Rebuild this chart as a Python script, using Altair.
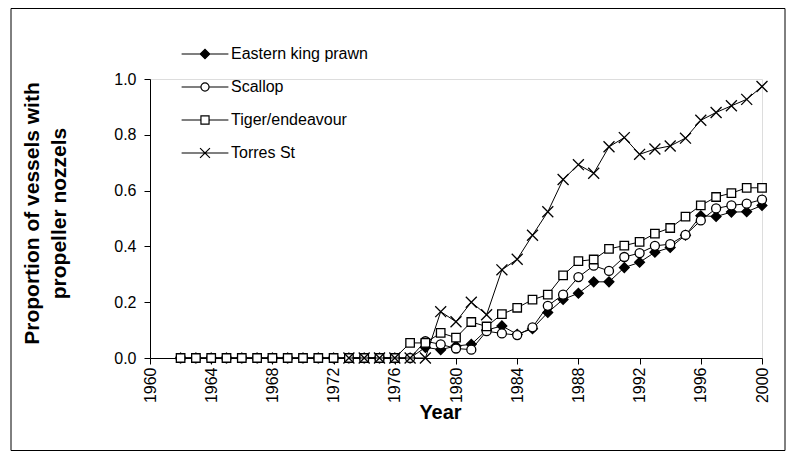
import altair as alt
import pandas as pd

# ---- data ----
series = ["Eastern king prawn", "Scallop", "Tiger/endeavour", "Torres St"]

years = list(range(1962, 2001))
torres_years = list(range(1973, 2001))

eastern = [0] * 16 + [0.038, 0.03, 0.043, 0.049, 0.10, 0.115, 0.085, 0.105, 0.163,
                      0.21, 0.232, 0.273, 0.273, 0.324, 0.343, 0.379, 0.396, 0.44,
                      0.51, 0.507, 0.523, 0.524, 0.547]
scallop = [0] * 16 + [0.06, 0.049, 0.034, 0.03, 0.096, 0.088, 0.082, 0.11, 0.187,
                      0.227, 0.29, 0.331, 0.312, 0.362, 0.376, 0.402, 0.408, 0.441,
                      0.493, 0.536, 0.547, 0.553, 0.568]
tiger = [0] * 15 + [0.054, 0.054, 0.09, 0.073, 0.129, 0.113, 0.157, 0.18, 0.209,
                    0.227, 0.296, 0.347, 0.353, 0.391, 0.403, 0.416, 0.446, 0.466,
                    0.507, 0.547, 0.577, 0.591, 0.61, 0.61]
torres = [0] * 6 + [0.166, 0.13, 0.20, 0.155, 0.316, 0.354, 0.44, 0.524, 0.64, 0.693,
                    0.662, 0.757, 0.79, 0.73, 0.749, 0.76, 0.788, 0.852, 0.88, 0.904,
                    0.927, 0.973]

x_ticks = list(range(1960, 2001, 4))
y_ticks = [0.0, 0.2, 0.4, 0.6, 0.8, 1.0]

rows = []
for name, yrs, vals in [(series[0], years, eastern), (series[1], years, scallop),
                        (series[2], years, tiger), (series[3], torres_years, torres)]:
    for yv, v in zip(yrs, vals):
        rows.append({"series": name, "year": yv, "value": v})
df = pd.DataFrame(rows)

FONT = "Liberation Sans"

point_shapes = ["diamond", "circle", "square", "M-1,-1L1,1M-1,1L1,-1"]
point_fills = ["black", "white", "white", "transparent"]
point_sizes = [95, 81, 72, 120]

legend_shapes = [
    "M-5.2,0L5.2,0M-1.05,0L0,-1.05L1.05,0L0,1.05Z",
    "M-5.2,0L-0.9,0M0.9,0L5.2,0M0.9,0A0.9,0.9,0,1,1,-0.9,0A0.9,0.9,0,1,1,0.9,0Z",
    "M-5.2,0L-0.9,0M0.9,0L5.2,0M-0.9,-0.9L0.9,-0.9L0.9,0.9L-0.9,0.9Z",
    "M-5.2,0L5.2,0M-1.1,-1.1L1.1,1.1M-1.1,1.1L1.1,-1.1",
]

X = alt.X(
    "year:Q",
    scale=alt.Scale(domain=[1960, 2000], nice=False, zero=False),
    axis=alt.Axis(
        values=x_ticks, format="d", labelAngle=270, labelFont=FONT, labelFontSize=16,
        labelColor="black", labelPadding=3, labelOverlap=False, labelFlush=False,
        tickSize=6, tickColor="black", domainColor="black", grid=False,
        title="Year", titleFont=FONT, titleFontSize=20, titleFontWeight="bold",
        titleColor="black", titleX=290, titleY=60, titleBaseline="alphabetic",
        titleAlign="center",
    ),
)
Y = alt.Y(
    "value:Q",
    scale=alt.Scale(domain=[0, 1], nice=False),
    axis=alt.Axis(
        values=y_ticks, format=".1f", labelFont=FONT, labelFontSize=16,
        labelColor="black", labelPadding=8, tickSize=6, tickColor="black",
        domainColor="black", grid=False,
        title=["Proportion of vessels with", "propeller nozzels"],
        titleFont=FONT, titleFontSize=21, titleFontWeight="bold", titleColor="black",
        titleAngle=270, titleX=-118, titleY=134, titleBaseline="middle",
        titleAlign="center", titleLineHeight=27,
    ),
)

base = alt.Chart(df)

# chart-area frame
frame = alt.Chart(pd.DataFrame({"a": [0]})).mark_rect(
    fill="transparent", stroke="black", strokeWidth=1
).encode(
    x=alt.value(-139), x2=alt.value(635), y=alt.value(-70.5), y2=alt.value(371.5)
)

layers = [frame]
for name, shp, fl, sz in zip(series, point_shapes, point_fills, point_sizes):
    sub = base.transform_filter(alt.datum.series == name).encode(x=X, y=Y)
    layers.append(sub.mark_line(color="black", strokeWidth=1))
    layers.append(
        sub.mark_point(shape=shp, filled=True, fill=fl, stroke="black",
                       strokeWidth=1.3, size=sz, opacity=1)
    )

leg = alt.Legend(
    orient="none", legendX=47, legendY=-33, title=None, labelFont=FONT,
    labelFontSize=16, labelColor="black", labelLimit=400, symbolSize=81,
    symbolStrokeWidth=1.2, symbolStrokeColor="black", rowPadding=17,
    labelOffset=18, padding=0, symbolOpacity=1,
)
legend_layer = base.mark_point(
    filled=True, size=81, strokeWidth=1.2, opacity=1
).encode(
    shape=alt.Shape("series:N", scale=alt.Scale(domain=series, range=legend_shapes), legend=leg),
    fill=alt.Fill("series:N", scale=alt.Scale(domain=series, range=point_fills), legend=leg),
    stroke=alt.Stroke("series:N", scale=alt.Scale(domain=series, range=["black"] * 4), legend=leg),
).transform_filter("false")
layers.append(legend_layer)

chart = alt.layer(*layers).properties(
    width=612, height=279,
    autosize=alt.AutoSizeParams(type="none"),
    padding={"left": 142, "top": 71, "right": 24, "bottom": 94},
).configure_view(stroke=None).configure(font=FONT)

chart.save("out.html", embed_options={"renderer": "svg", "actions": False})
